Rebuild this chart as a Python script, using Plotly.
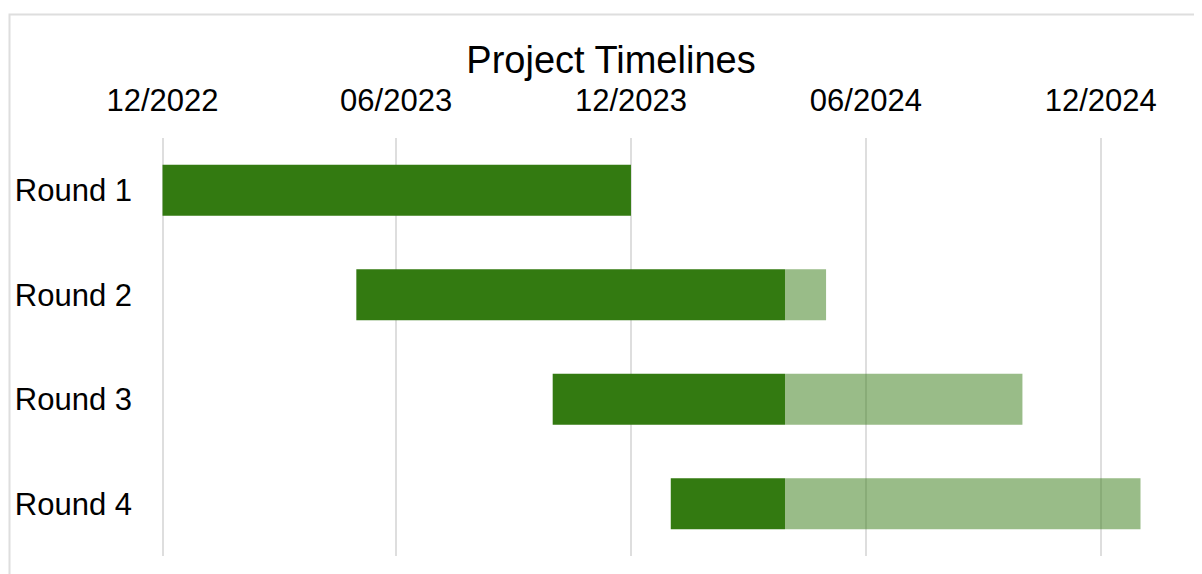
"""Gantt-style project timeline: done part solid, remaining part faded."""

import pandas as pd
import plotly.graph_objects as go

ROUNDS = ["Round 1", "Round 2", "Round 3", "Round 4"]
STARTS = ["2022-12-01", "2023-05-01", "2023-10-01", "2024-01-01"]
ENDS = ["2023-12-01", "2024-05-01", "2024-10-01", "2025-01-01"]
PROGRESS_DATE = "2024-03-30"

TICK_DATES = ["2022-12-01", "2023-06-01", "2023-12-01", "2024-06-01", "2024-12-01"]
TICK_LABELS = ["12/2022", "06/2023", "12/2023", "06/2024", "12/2024"]

GREEN = "#337a11"
FONT = "Liberation Sans, Arial, sans-serif"

# the page body adds an 8px margin, so the figure is a bit smaller than the window
W, H = 1194, 566
M_L, M_R, M_T, M_B = 134, 23, 130, 18

start = pd.to_datetime(STARTS)
end = pd.to_datetime(ENDS)
today = pd.Timestamp(PROGRESS_DATE)

done_end = end.where(end < today, today)
ms = pd.Timedelta(milliseconds=1)
done_ms = [(b - a) / ms for a, b in zip(start, done_end)]
left_base = [d.strftime("%Y-%m-%d") for d in done_end]
left_ms = [max((b - a) / ms, 0) for a, b in zip(done_end, end)]

fig = go.Figure()
fig.add_trace(
    go.Bar(
        y=ROUNDS,
        x=done_ms,
        base=STARTS,
        orientation="h",
        marker={"color": GREEN, "line": {"width": 0}},
        name="done",
    )
)
fig.add_trace(
    go.Bar(
        y=ROUNDS,
        x=left_ms,
        base=left_base,
        orientation="h",
        marker={"color": GREEN, "opacity": 0.5, "line": {"width": 0}},
        name="remaining",
    )
)

plot_w = W - M_L - M_R
plot_h = H - M_T - M_B

fig.update_layout(
    width=W,
    height=H,
    margin={"l": M_L, "r": M_R, "t": M_T, "b": M_B},
    barmode="overlay",
    bargap=0.51,
    showlegend=False,
    plot_bgcolor="white",
    paper_bgcolor="white",
    font={"family": FONT, "size": 31, "color": "#000000"},
    title={
        "text": "Project Timelines",
        "font": {"family": FONT, "size": 38, "color": "#000000"},
        "x": 603 / W,
        "xref": "container",
        "xanchor": "center",
        "y": 1 - 52 / H,
        "yref": "container",
        "yanchor": "middle",
    },
    xaxis={
        "type": "date",
        "side": "top",
        "range": ["2022-11-15", "2025-01-31"],
        "tickvals": TICK_DATES,
        "ticktext": TICK_LABELS,
        "showgrid": True,
        "gridcolor": "#dedede",
        "gridwidth": 2,
        "zeroline": False,
        "showline": False,
        "automargin": False,
        "ticklabelstandoff": 20,
        "tickfont": {"size": 31},
    },
    yaxis={
        "autorange": "reversed",
        "showgrid": False,
        "zeroline": False,
        "showline": False,
        "automargin": False,
        "ticklabelstandoff": 9,
        "tickfont": {"size": 31},
    },
)

# light frame around the chart, open at the right/bottom edges of the window
fig.add_shape(
    type="rect",
    xref="paper",
    yref="paper",
    x0=(1.5 - M_L) / plot_w,
    x1=1.2,
    y0=-0.3,
    y1=(H - M_B - 6.5) / plot_h,
    line={"color": "#dedede", "width": 2},
    layer="below",
)

fig.write_html("out.html")
